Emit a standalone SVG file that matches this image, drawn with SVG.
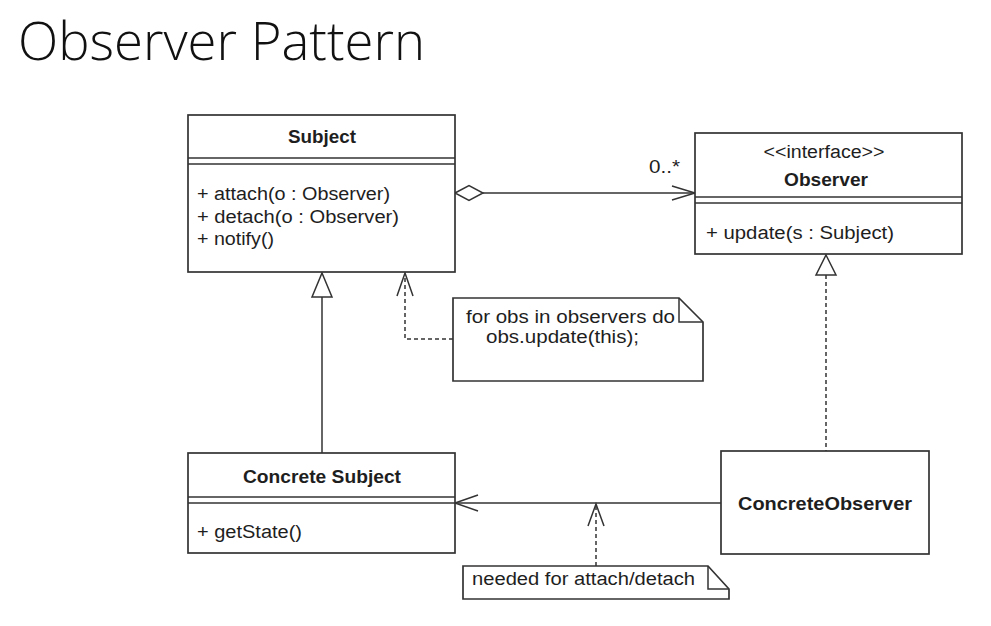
<svg xmlns="http://www.w3.org/2000/svg" width="991" height="626" viewBox="0 0 991 626">
<style>
.box{fill:#fff;stroke:#333;stroke-width:1.7}
.ln{fill:none;stroke:#333;stroke-width:1.5}
.dash{fill:none;stroke:#333;stroke-width:1.5;stroke-dasharray:4 3}
.tri{fill:#fff;stroke:#333;stroke-width:1.5}
.t{font-family:"Liberation Sans",Arial,sans-serif;font-size:18px;fill:#1e1e1e}
.b{font-weight:bold}
.m{text-anchor:middle}
.title{font-family:"Open Sans","Liberation Sans",sans-serif;font-weight:300;font-size:54px;fill:#111}
</style>
<rect width="991" height="626" fill="#fff"/>
<text class="title" x="18" y="60" textLength="407" lengthAdjust="spacingAndGlyphs">Observer Pattern</text>

<g id="connectors">
  <line class="ln" x1="483" y1="193" x2="695" y2="193"/>
  <polygon class="tri" points="455,193 469,185.5 483,193 469,200.5"/>
  <polyline class="ln" points="672,186 695,193 672,200"/>
  <text class="t" x="649" y="173" textLength="31" lengthAdjust="spacingAndGlyphs">0..*</text>
  <line class="ln" x1="322" y1="297" x2="322" y2="453"/>
  <polygon class="tri" points="322,273 332,297 312,297"/>
  <line class="dash" x1="826" y1="275" x2="826" y2="451"/>
  <polygon class="tri" points="826,255 836,275 816,275"/>
  <polyline class="dash" points="453,339 405,339 405,274"/>
  <polyline class="ln" points="397,296 405,273 413,296"/>
  <line class="ln" x1="721" y1="503" x2="455" y2="503"/>
  <polyline class="ln" points="478,495 455,503 478,511"/>
  <line class="dash" x1="596" y1="566" x2="596" y2="505"/>
  <polyline class="ln" points="588,526 596,504 604,526"/>
</g>

<g id="Subject">
  <rect class="box" x="188" y="115" width="267" height="157"/>
  <line class="ln" x1="188" y1="158" x2="455" y2="158"/>
  <line class="ln" x1="188" y1="164" x2="455" y2="164"/>
  <text class="t b m" x="322" y="143" textLength="68" lengthAdjust="spacingAndGlyphs">Subject</text>
  <text class="t" x="197" y="200" textLength="193" lengthAdjust="spacingAndGlyphs">+ attach(o : Observer)</text>
  <text class="t" x="197" y="223" textLength="202" lengthAdjust="spacingAndGlyphs">+ detach(o : Observer)</text>
  <text class="t" x="197" y="245" textLength="77" lengthAdjust="spacingAndGlyphs">+ notify()</text>
</g>

<g id="Observer">
  <rect class="box" x="695" y="133" width="267" height="121"/>
  <line class="ln" x1="695" y1="197" x2="962" y2="197"/>
  <line class="ln" x1="695" y1="203" x2="962" y2="203"/>
  <text class="t m" x="824" y="158" textLength="121" lengthAdjust="spacingAndGlyphs">&lt;&lt;interface&gt;&gt;</text>
  <text class="t b m" x="826" y="186" textLength="84" lengthAdjust="spacingAndGlyphs">Observer</text>
  <text class="t" x="706" y="239" textLength="188" lengthAdjust="spacingAndGlyphs">+ update(s : Subject)</text>
</g>

<g id="ConcreteSubject">
  <rect class="box" x="188" y="453" width="267" height="100"/>
  <line class="ln" x1="188" y1="497" x2="455" y2="497"/>
  <line class="ln" x1="188" y1="503" x2="455" y2="503"/>
  <text class="t b m" x="322" y="483" textLength="158" lengthAdjust="spacingAndGlyphs">Concrete Subject</text>
  <text class="t" x="197" y="538" textLength="105" lengthAdjust="spacingAndGlyphs">+ getState()</text>
</g>

<g id="ConcreteObserver">
  <rect class="box" x="721" y="451" width="208" height="103"/>
  <text class="t b m" x="825" y="510" textLength="174" lengthAdjust="spacingAndGlyphs">ConcreteObserver</text>
</g>

<g id="note1">
  <polygon class="box" points="453,298 679,298 703,322 703,381 453,381"/>
  <polyline class="ln" points="679,298 679,322 703,322"/>
  <text class="t" x="466" y="323" textLength="209" lengthAdjust="spacingAndGlyphs">for obs in observers do</text>
  <text class="t" x="486" y="343" textLength="153" lengthAdjust="spacingAndGlyphs">obs.update(this);</text>
</g>

<g id="note2">
  <polygon class="box" points="463,566 708,566 729,589 729,599 463,599"/>
  <polyline class="ln" points="708,566 708,589 729,589"/>
  <text class="t" x="472" y="585" textLength="223" lengthAdjust="spacingAndGlyphs">needed for attach/detach</text>
</g>
</svg>
